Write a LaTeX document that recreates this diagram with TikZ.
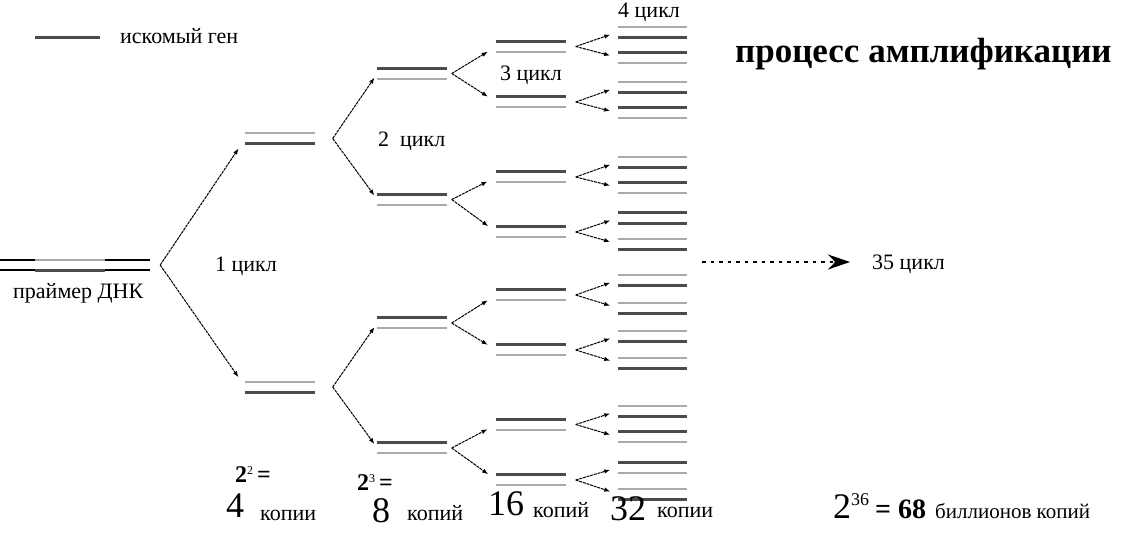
\documentclass[tikz,border=0pt]{standalone}
\usepackage{fontspec}
\setmainfont{Liberation Serif}
\usetikzlibrary{arrows.meta,positioning}
\definecolor{grisosc}{RGB}{75,75,75}
\definecolor{griscla}{RGB}{170,170,170}
\tikzset{
  osc/.style={draw=grisosc, line width=3pt},
  cla/.style={draw=griscla, line width=2.2pt},
  adn/.style={draw=black, line width=1.8pt},
  hebras/.style={minimum width=69pt, minimum height=10pt, inner sep=0pt},
  fl/.style={-{Latex[length=6pt,width=4.5pt]}, line width=1pt, dash pattern=on 3pt off 0.8pt},
  flfin/.style={-{Stealth[length=22pt,width=15pt]}, line width=1.1pt, dash pattern=on 3.5pt off 5pt, shorten >=22pt},
  et/.style={inner sep=0pt, anchor=base west, font=\fontsize{22}{25}\selectfont},
  num/.style={inner sep=0pt, anchor=base west, font=\fontsize{36}{40}\selectfont},
  pot/.style={inner sep=0pt, anchor=base west, font=\bfseries\fontsize{24}{28}\selectfont},
  tit/.style={inner sep=0pt, anchor=base west, font=\bfseries\fontsize{35}{40}\selectfont},
}

\begin{document}
\begin{tikzpicture}[x=1pt, y=-1pt]
  \useasboundingbox (0,0) rectangle (1123,547);
  % leyenda y titulo
  \node[et] (ley) at (120,43) {искомый ген};
  \draw[osc] (35,37) -- (100,37);
  \node[tit] (titulo) at (735,62) {процесс амплификации};

  % ADN de partida
  \node[hebras, minimum width=150pt] (adn) at (75,265) {};
  \draw[adn] (adn.north west) -- ++(35,0) (adn.north east) -- ++(-45,0);
  \draw[adn] (adn.south west) -- ++(35,0) (adn.south east) -- ++(-45,0);
  \draw[cla] ([xshift=35pt]adn.north west) -- ++(70,0);
  \draw[osc] ([xshift=35pt]adn.south west) -- ++(70,0);
  \node[et] (prim) at (13,298) {праймер ДНК};

  % copias por ciclo
  \foreach \n/\px/\py/\ca/\cb in {
      a1/280/138.5/cla/osc, a2/280/387/cla/osc,
      b1/412/73.5/osc/cla, b2/412/199.5/osc/cla, b3/412/323/osc/cla, b4/412/448/osc/cla,
      c1/531/46.5/osc/cla, c2/531/102/osc/cla, c3/531/177/osc/cla, c4/531/232/osc/cla,
      c5/531/295/osc/cla, c6/531/350/osc/cla, c7/531/424.5/osc/cla, c8/531/480/osc/cla,
      d1/652.5/32/cla/osc, d2/652.5/57.5/osc/cla, d3/652.5/87/cla/osc, d4/652.5/113/osc/cla,
      d5/652.5/162/cla/osc, d6/652.5/187.5/osc/cla, d7/652.5/218/osc/osc, d8/652.5/244/cla/osc,
      d9/652.5/280/cla/osc, d10/652.5/308/cla/osc, d11/652.5/336/cla/osc, d12/652.5/363/cla/osc,
      d13/652.5/411/cla/osc, d14/652.5/437/osc/cla, d15/652.5/467.5/osc/cla, d16/652.5/494/cla/osc}{
    \node[hebras] (\n) at (\px,\py) {};
    \draw[\ca] (\n.north west) -- (\n.north east);
    \draw[\cb] (\n.south west) -- (\n.south east);
  }

  % ramas
  \coordinate (vadn) at ([xshift=10pt]adn.east);
  \draw[fl, shorten >=12pt] (vadn) -- (a1.west);
  \draw[fl, shorten >=12pt] (vadn) -- (a2.west);
  \foreach \p/\h/\k in {a1/b1/b2, a2/b3/b4}{
    \coordinate (v\p) at ([xshift=18pt]\p.east);
    \draw[fl, shorten >=5pt] (v\p) -- (\h.west);
    \draw[fl, shorten >=5pt] (v\p) -- (\k.west);
  }
  \foreach \p/\h/\k in {b1/c1/c2, b2/c3/c4, b3/c5/c6, b4/c7/c8}{
    \coordinate (v\p) at ([xshift=5pt]\p.east);
    \draw[fl, shorten >=10pt] (v\p) -- (\h.west);
    \draw[fl, shorten >=10pt] (v\p) -- (\k.west);
  }
  \foreach \p/\h/\k in {c1/d1/d2, c2/d3/d4, c3/d5/d6, c4/d7/d8,
      c5/d9/d10, c6/d11/d12, c7/d13/d14, c8/d15/d16}{
    \coordinate (v\p) at ([xshift=10pt]\p.east);
    \draw[fl, shorten >=8pt] (v\p) -- (\h.west);
    \draw[fl, shorten >=8pt] (v\p) -- (\k.west);
  }

  % ciclos
  \node[et] (ci1) at (215,271) {1 цикл};
  \node[et] (ci2) at (378,146) {2\enspace цикл};
  \node[et] (ci3) at (500,80) {3 цикл};
  \node[et] (ci4) at (618,17) {4 цикл};
  \node[et] (ci35) at (872,269) {35 цикл};
  \coordinate (c35) at (702,262);
  \draw[flfin] (c35) -- (c35 -| ci35.west);

  % numero de copias
  \node[pot] (e2) at (235,482) {2\raisebox{8pt}{\mdseries\fontsize{12}{14}\selectfont 2}\,=};
  \node[num] (n4) at (226,517) {4};
  \node[et] (k4) at (260,520) {копии};
  \node[pot] (e3) at (357,490) {2\raisebox{8pt}{\mdseries\fontsize{12}{14}\selectfont 3}\,=};
  \node[num] (n8) at (372,522) {8};
  \node[et] (k8) at (407,520) {копий};
  \node[num] (n16) at (488,515) {16};
  \node[et] (k16) at (533,517) {копий};
  \node[num] (n32) at (610,520) {32};
  \node[et] (k32) at (657,517) {копии};
  \node[num] (n36) at (833,518) {2\raisebox{13pt}{\fontsize{18}{20}\selectfont 36}\,{\bfseries\fontsize{28}{30}\selectfont= 68} {\fontsize{21}{24}\selectfont биллионов копий}};
\end{tikzpicture}
\end{document}
